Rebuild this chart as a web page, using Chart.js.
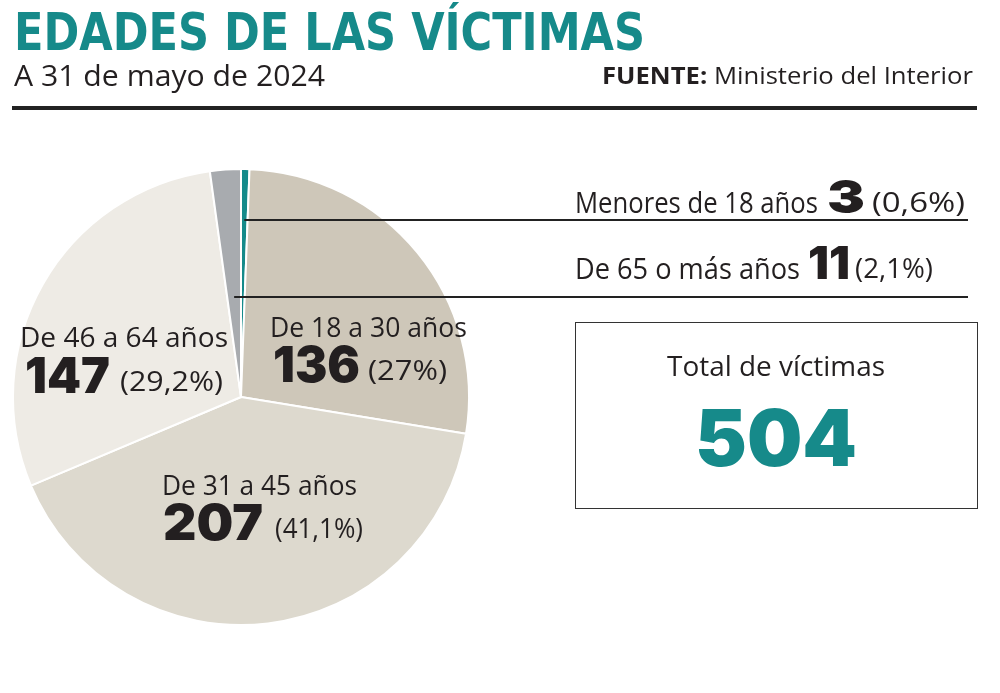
<!DOCTYPE html>
<html><head><meta charset="utf-8">
<script src="https://cdn.jsdelivr.net/npm/chart.js@4"></script>
<style>
html,body{margin:0;padding:0;background:#fff;}
#wrap{position:relative;width:1000px;height:693px;overflow:hidden;background:#fff;}
#c{position:absolute;left:0;top:0;}
.t{position:absolute;white-space:nowrap;line-height:1;transform-origin:0 0;color:#231f20;}
.mark{display:inline-block;width:0;height:0;vertical-align:baseline;}
</style></head>
<body><div id="wrap"><canvas id="c" width="1000" height="693"></canvas></div>
<script>
// ---- data ----
const title = 'EDADES DE LAS VÍCTIMAS';
const subtitle = 'A 31 de mayo de 2024';
const sourceLabel = 'FUENTE:';
const sourceText = 'Ministerio del Interior';
const categories = ['Menores de 18 años','De 18 a 30 años','De 31 a 45 años','De 46 a 64 años','De 65 o más años'];
const values = [3,136,207,147,11];
const percentLabels = ['(0,6%)','(27%)','(41,1%)','(29,2%)','(2,1%)'];
const totalLabel = 'Total de víctimas';
const colors = ['#148a8a','#cec7b9','#ddd9ce','#eeebe5','#a8abaf'];
const total = values.reduce((a,b)=>a+b,0);

const TEAL = '#168a8a';
const FONT_TXT = '"Open Sans","Noto Sans",sans-serif';
const FONT_NUM = 'Inter,Lato,sans-serif';
const FONT_TITLE = '"Liberation Sans Narrow","DejaVu Sans Condensed","Liberation Sans",sans-serif';

const wrap = document.getElementById('wrap');
// place a text so that its baseline is at y and it spans [x, x+w]
function put(html, x, base, size, w, opts={}){
  const d = document.createElement('div');
  d.className = 't';
  d.innerHTML = html + '<span class="mark"></span>';
  d.style.fontFamily = opts.font || FONT_TXT;
  d.style.fontSize = size + 'px';
  d.style.fontWeight = opts.weight || 400;
  if (opts.color) d.style.color = opts.color;
  d.style.left = x + 'px';
  d.style.top = '0px';
  wrap.appendChild(d);
  const mk = d.querySelector('.mark');
  const off = mk.getBoundingClientRect().top - d.getBoundingClientRect().top;
  d.style.top = (base - off) + 'px';
  const sw = d.getBoundingClientRect().width;
  if (w) { d.style.transformOrigin = '0 ' + off + 'px'; d.style.transform = 'scaleX(' + (w/sw) + ')'; }
  return d;
}
function box(x,y,w,h,style){
  const d=document.createElement('div');
  d.style.cssText='position:absolute;left:'+x+'px;top:'+y+'px;width:'+w+'px;height:'+h+'px;box-sizing:border-box;'+style;
  wrap.appendChild(d);
}

// header
put(title, 14, 50, 52, 631, {font:FONT_TITLE, weight:700, color:TEAL});
put(subtitle, 14, 86, 29, 311);
put('<b style="font-weight:700">'+sourceLabel+'</b> '+sourceText, 602, 84, 23, 371);
box(12,106,965,4,'background:#222;');

// right side small categories
put(categories[0], 575, 213, 29, 243);
put(String(values[0]), 827, 213, 46, 38, {font:FONT_NUM, weight:900});
put(percentLabels[0], 872, 212, 27, 93);
put(categories[4], 575, 279, 29, 225);
put(String(values[4]), 808, 279, 46, 42, {font:FONT_NUM, weight:900});
put(percentLabels[4], 855, 278, 27, 78);

// total box
box(575,322,403,187,'border:1.5px solid #333;');
put(totalLabel, 667, 376, 28, 218);
put(String(total), 695, 466, 78, 162, {font:FONT_NUM, weight:900, color:TEAL});

// pie labels
put(categories[3], 20, 347, 27, 208);
put(String(values[3]), 25, 393, 50, 85, {font:FONT_NUM, weight:900});
put(percentLabels[3], 120, 391, 28, 103);
put(categories[1], 270, 337, 27, 197);
put(String(values[1]), 273, 382, 50, 87, {font:FONT_NUM, weight:900});
put(percentLabels[1], 368, 380, 28, 79);
put(categories[2], 162, 495, 27, 195);
put(String(values[2]), 163, 540, 50, 100, {font:FONT_NUM, weight:900});
put(percentLabels[2], 275, 538, 28, 88);

// leader lines from small slices
const leaders = [{index:0, y:220, xEnd:968},{index:4, y:297, xEnd:968}];
const leaderPlugin = {
  id:'leaders',
  afterDatasetsDraw(chart){
    const meta = chart.getDatasetMeta(0);
    const ctx = chart.ctx;
    ctx.save();
    ctx.strokeStyle = '#222';
    ctx.lineWidth = 2;
    leaders.forEach(l=>{
      const a = meta.data[l.index].getProps(['x','y','startAngle','endAngle'],true);
      const mid = (a.startAngle + a.endAngle)/2;
      const r = (l.y - a.y)/Math.sin(mid);
      const px = a.x + r*Math.cos(mid);
      ctx.beginPath();
      ctx.moveTo(px, l.y);
      ctx.lineTo(l.xEnd, l.y);
      ctx.stroke();
    });
    ctx.restore();
  }
};

new Chart(document.getElementById('c'), {
  type:'pie',
  data:{labels:categories, datasets:[{data:values, backgroundColor:colors, borderColor:'#ffffff', borderWidth:2}]},
  options:{
    responsive:false, animation:false,
    layout:{padding:{left:12, top:168, right:530, bottom:67}},
    plugins:{legend:{display:false}, tooltip:{enabled:false}}
  },
  plugins:[leaderPlugin]
});
</script></body></html>
